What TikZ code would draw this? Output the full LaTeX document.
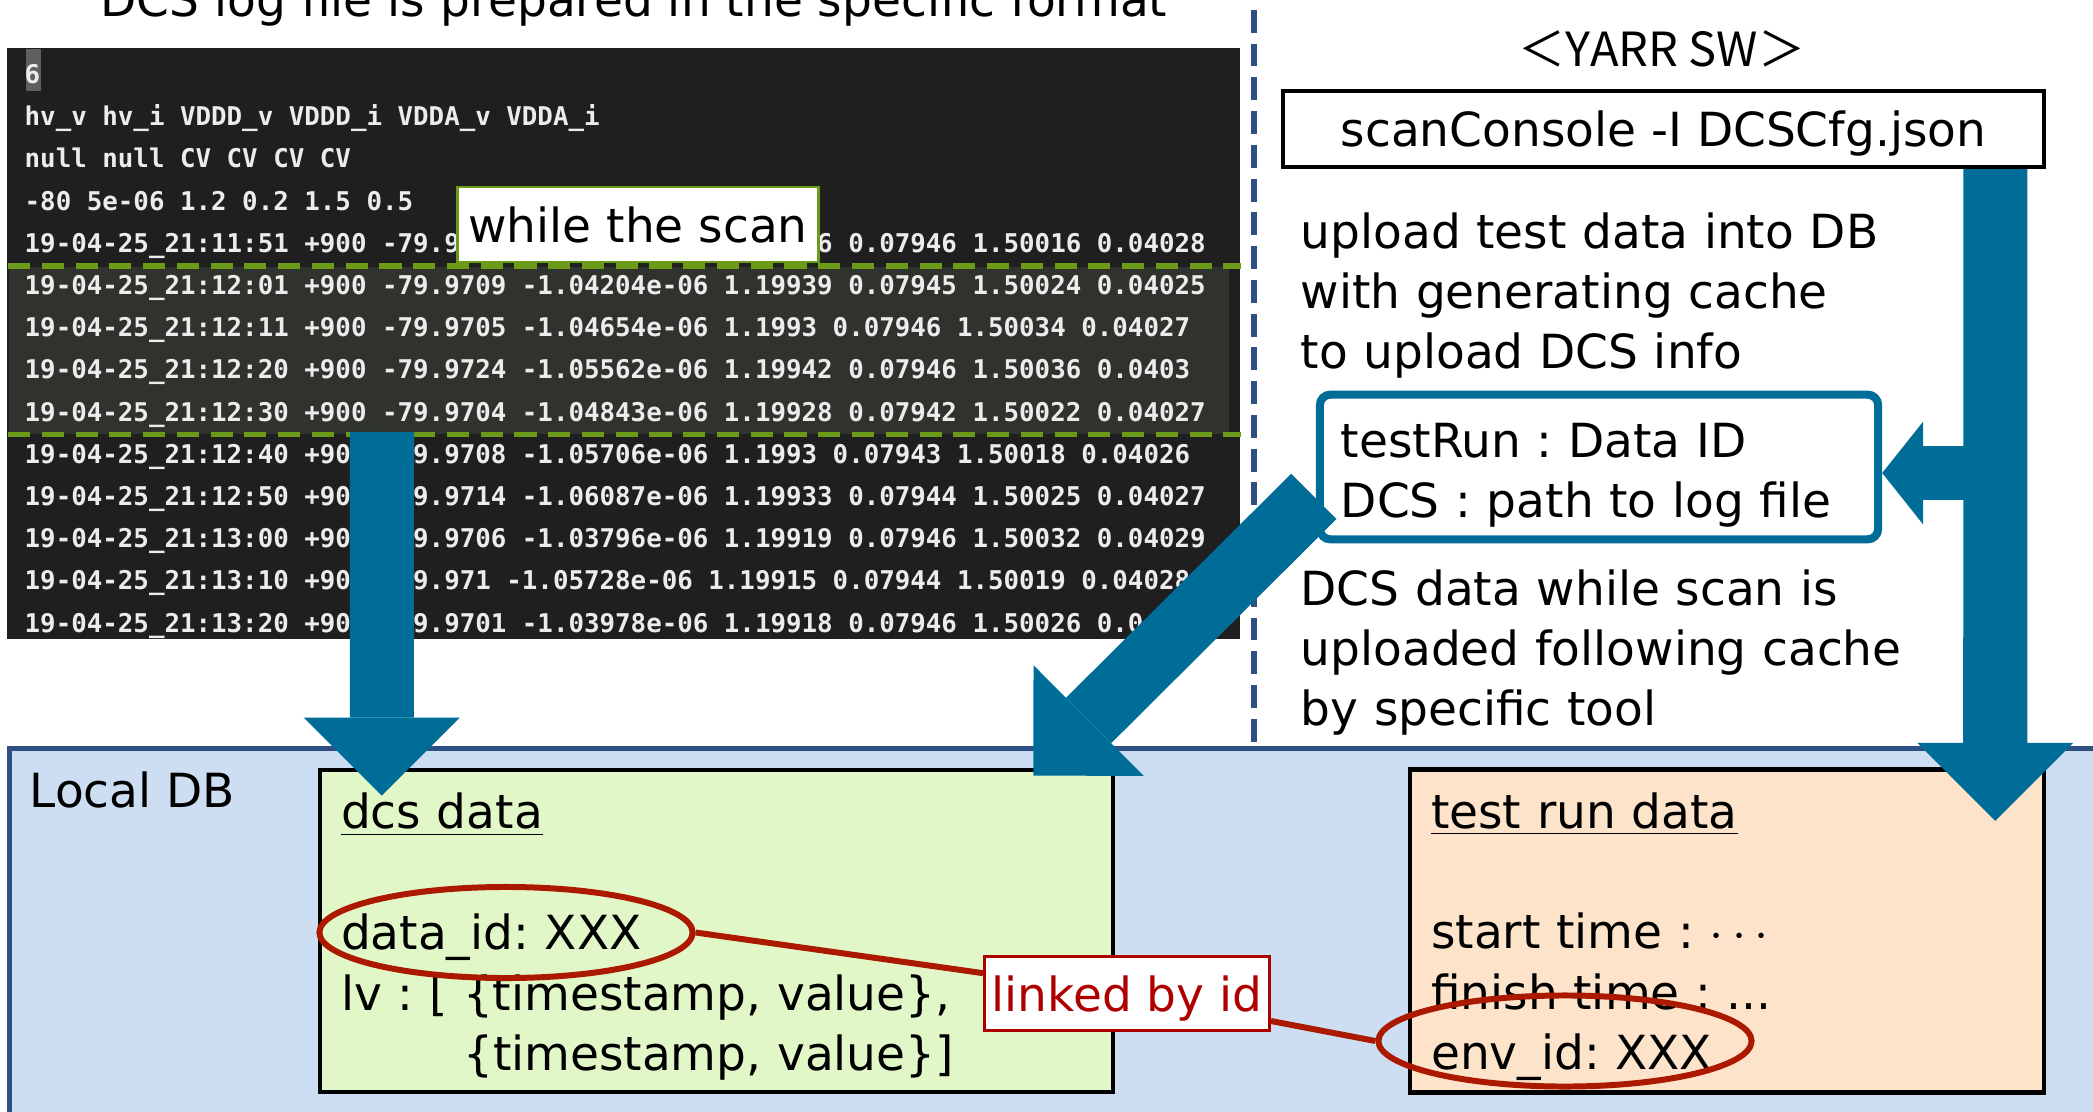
\documentclass[tikz,border=0pt]{standalone}
\usepackage{fontspec}
\setmainfont{DejaVu Sans}
\newfontfamily\logfont{DejaVu Sans Mono}
\newfontfamily\cjk{Noto Sans CJK JP}
\usetikzlibrary{shapes.geometric, arrows.meta, positioning, calc}
\frenchspacing

\definecolor{arrowblue}{RGB}{0,108,152}
\definecolor{termdark}{RGB}{31,31,31}
\definecolor{termsel}{RGB}{48,50,45}
\definecolor{termtext}{RGB}{236,236,236}
\definecolor{cursorgray}{RGB}{95,95,95}
\definecolor{selgreen}{RGB}{108,155,26}
\definecolor{sepnavy}{RGB}{47,80,130}
\definecolor{dbblue}{RGB}{205,221,242}
\definecolor{dcsgreen}{RGB}{226,247,200}
\definecolor{runpeach}{RGB}{253,227,201}
\definecolor{ringred}{RGB}{170,25,0}
\definecolor{linkred}{RGB}{175,0,0}

\newcommand\txtsize{\fontsize{13.37pt}{17.2pt}\selectfont}
\newcommand\logsize{\fontsize{7.34pt}{8pt}\selectfont}

\begin{document}
\begin{tikzpicture}[x=0.01cm, y=-0.01cm, font=\txtsize]

\useasboundingbox (0,0) rectangle (2093,1112);
\fill[white] (0,0) rectangle (2093,1112);

% Styles
\tikzset{
    termbg/.style={rectangle, fill=termdark, inner sep=0pt, anchor=north west},
    selband/.style={rectangle, fill=termsel, inner sep=0pt, anchor=north west},
    selline/.style={draw=selgreen, line width=1.7pt, dash pattern=on 6.3pt off 3.3pt},
    logline/.style={anchor=base west, inner sep=0pt, text=termtext, font=\logfont\bfseries\logsize},
    cursorbox/.style={rectangle, fill=cursorgray, inner sep=0pt, minimum width=0.15cm, minimum height=0.42cm},
    scannote/.style={rectangle, draw=selgreen, line width=0.8pt, fill=white, minimum width=3.6cm, minimum height=0.75cm, inner sep=0pt},
    sepline/.style={draw=sepnavy, line width=1.7pt, dash pattern=on 6.5pt off 3.1pt, dash phase=6.8pt},
    cmdbox/.style={rectangle, draw=black, line width=1.2pt, fill=white, minimum width=7.61cm, minimum height=0.76cm, inner sep=0pt, text depth=0pt},
    refbox/.style={rectangle, rounded corners=3pt, draw=arrowblue, line width=2.3pt, fill=white, minimum height=1.36cm, text width=5.16cm, inner xsep=0.21cm, align=left, text height=0.51cm},
    notetext/.style={anchor=base west, inner sep=0pt, text width=6.2cm, align=left},
    dbpanel/.style={rectangle, draw=sepnavy, line width=1.4pt, fill=dbblue, anchor=north west, minimum width=21.6cm, minimum height=4cm},
    databox/.style={rectangle, draw=black, line width=1.3pt, minimum height=3.195cm, inner xsep=0.21cm, align=left, text height=0.47cm},
    idring/.style={ellipse, draw=ringred, line width=1.7pt, minimum width=3.73cm, minimum height=0.91cm, inner sep=0pt},
    linkbox/.style={rectangle, draw=linkred, line width=0.8pt, fill=white, text=linkred, minimum width=2.85cm, minimum height=0.74cm, inner sep=0pt, text depth=0pt},
    linkline/.style={draw=ringred, line width=1.7pt},
    bigarrow/.style={draw=arrowblue, line width=0.64cm, -{Triangle[length=0.78cm, width=1.56cm, line width=0pt]}},
    sidearrow/.style={draw=arrowblue, line width=0.54cm, -{Triangle[length=0.41cm, width=1.03cm, line width=0pt]}}
}

% DCS log file
\node[anchor=base] (title) at (634,17) {DCS log file is prepared in the specific format};
\node[termbg, minimum width=12.33cm, minimum height=5.91cm] (term) at (6,47) {};
\node[selband, minimum width=12.20cm, minimum height=1.67cm] (selBand) at (8,266) {};
\draw[selline] (selBand.north west) -- (selBand.north west -| term.east);
\draw[selline] (selBand.south west) -- (selBand.south west -| term.east);
\node[cursorbox] (cursor) at (33.5,70) {};
\node[logline] (row0) at (24,83.5) {6};
\node[logline] (row1) at (24,125.7) {hv\_v hv\_i VDDD\_v VDDD\_i VDDA\_v VDDA\_i};
\node[logline] (row2) at (24,167.9) {null null CV CV CV CV};
\node[logline] (row3) at (24,210.1) {-80 5e-06 1.2 0.2 1.5 0.5};
\node[logline] (row4) at (24,252.3) {19-04-25\_21:11:51 +900 -79.9711 -1.04306e-06 1.19936 0.07946 1.50016 0.04028};
\node[logline] (row5) at (24,294.5) {19-04-25\_21:12:01 +900 -79.9709 -1.04204e-06 1.19939 0.07945 1.50024 0.04025};
\node[logline] (row6) at (24,336.7) {19-04-25\_21:12:11 +900 -79.9705 -1.04654e-06 1.1993 0.07946 1.50034 0.04027};
\node[logline] (row7) at (24,378.9) {19-04-25\_21:12:20 +900 -79.9724 -1.05562e-06 1.19942 0.07946 1.50036 0.0403};
\node[logline] (row8) at (24,421.1) {19-04-25\_21:12:30 +900 -79.9704 -1.04843e-06 1.19928 0.07942 1.50022 0.04027};
\node[logline] (row9) at (24,463.3) {19-04-25\_21:12:40 +900 -79.9708 -1.05706e-06 1.1993 0.07943 1.50018 0.04026};
\node[logline] (row10) at (24,505.5) {19-04-25\_21:12:50 +900 -79.9714 -1.06087e-06 1.19933 0.07944 1.50025 0.04027};
\node[logline] (row11) at (24,547.7) {19-04-25\_21:13:00 +900 -79.9706 -1.03796e-06 1.19919 0.07946 1.50032 0.04029};
\node[logline] (row12) at (24,589.9) {19-04-25\_21:13:10 +900 -79.971 -1.05728e-06 1.19915 0.07944 1.50019 0.04028};
\node[logline] (row13) at (24,632.1) {19-04-25\_21:13:20 +900 -79.9701 -1.03978e-06 1.19918 0.07946 1.50026 0.04026};
\node[scannote] (scanNote) at (638,224.5) {while the scan};

\draw[sepline] (1254,0) -- (1254,746);

% YARR SW
\node[anchor=base] (yarr) at (1662,67) {\cjk{＜}YARR SW\cjk{＞}};
\node[cmdbox] (scanCmd) at (1663.5,129) {scanConsole -I DCSCfg.json};
\node[notetext] (uploadNote) at (1300,248) {upload test data into DB\\with generating cache\\to upload DCS info};
\node[refbox] (dcsRef) at (1599,467) {testRun : Data ID\\DCS : path to log file};
\node[notetext] (dcsNote) at (1300,605) {DCS data while scan is\\uploaded following cache\\by specific tool};

% Local DB
\node[dbpanel] (localDB) at (7,746) {};
\node[anchor=base west, inner sep=0pt] (dbLabel) at (29,807) {Local DB};
\node[databox, fill=dcsgreen, text width=7.505cm] (dcsData) at (716.5,931) {\underline{dcs data}\\[17.2pt]data\_id: XXX\\lv : [ \{timestamp, value\},\\\phantom{lv : [ }\{timestamp, value\}]};
\node[databox, fill=runpeach, text width=5.915cm] (testRun) at (1727,931) {\underline{test run data}\\[17.2pt]start time : $\cdots$\\finish time : ...\\env\_id: XXX};

% Arrows
\coordinate (logOut) at (382,432);
\coordinate (cmdOut) at ($(scanCmd.south east)+(-51,0)$);
\draw[bigarrow] (logOut) -- ($(dcsData.north west)+(64,28)$);
\draw[bigarrow] ($(dcsRef.south west)+(-2,-47)$) -- ($(dcsData.north east)+(-82,8)$);
\draw[bigarrow] (cmdOut) -- ($(testRun.north east)+(-51,54)$);
\draw[sidearrow] ($(cmdOut |- dcsRef.east)+(0,6)$) -- ($(dcsRef.east)+(0,6)$);

% Link by id
\node[idring] (idA) at (506,932.5) {};
\node[idring] (idB) at (1565,1041) {};
\node[linkbox] (linkNote) at (1127,993.5) {linked by id};
\draw[linkline] (idA.east) -- (linkNote);
\draw[linkline] (linkNote) -- (idB.west);

\end{tikzpicture}
\end{document}
